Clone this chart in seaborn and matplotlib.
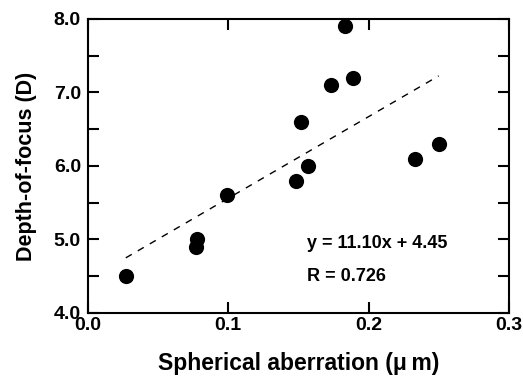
"""Depth-of-focus vs spherical aberration scatter with linear fit."""

import matplotlib.pyplot as plt
import numpy as np
import pandas as pd
import seaborn as sns
from matplotlib.ticker import MultipleLocator

# Data.
spherical_aberration = [0.027, 0.077, 0.078, 0.099, 0.148, 0.152, 0.157,
                        0.173, 0.183, 0.189, 0.233, 0.250]
depth_of_focus = [4.5, 4.9, 5.0, 5.6, 5.8, 6.6, 6.0, 7.1, 7.9, 7.2, 6.1, 6.3]
fit_slope = 11.10
fit_intercept = 4.45
fit_r = 0.726

df = pd.DataFrame({"sa": spherical_aberration, "dof": depth_of_focus})

sns.set_theme(style="ticks", rc={
    "text.color": "black",
    "axes.labelcolor": "black",
    "xtick.color": "black",
    "ytick.color": "black",
    "axes.edgecolor": "black",
})
plt.rcParams["font.family"] = ["Liberation Sans", "DejaVu Sans"]
plt.rcParams["font.weight"] = "bold"

fig = plt.figure(figsize=(5.23, 3.78), dpi=100)
ax = fig.add_axes([0.168, 0.172, 0.805, 0.778])

# Regression line over the data range.
x_fit = np.array([min(spherical_aberration), max(spherical_aberration)])
y_fit = fit_slope * x_fit + fit_intercept
ax.plot(x_fit, y_fit, color="black", linewidth=1.0, linestyle=(0, (5, 5)))

sns.scatterplot(data=df, x="sa", y="dof", color="black", s=120,
                edgecolor="black", linewidth=0, ax=ax, zorder=3)

ax.set_xlim(0, 0.3)
ax.set_ylim(4.0, 8.0)
ax.xaxis.set_major_locator(MultipleLocator(0.1))
ax.yaxis.set_major_locator(MultipleLocator(1.0))
ax.yaxis.set_minor_locator(MultipleLocator(0.5))
ax.xaxis.set_major_formatter(plt.FormatStrFormatter("%.1f"))
ax.yaxis.set_major_formatter(plt.FormatStrFormatter("%.1f"))

ax.tick_params(axis="both", which="both", direction="in", length=8,
               width=1.5, top=True, right=True, labelsize=14,
               colors="black")
ax.tick_params(axis="x", pad=3)
ax.tick_params(axis="y", pad=5)

for spine in ax.spines.values():
    spine.set_linewidth(1.5)
    spine.set_color("black")

for label in ax.get_xticklabels() + ax.get_yticklabels():
    label.set_fontweight("bold")

ax.set_xlabel("Spherical aberration (\u03bc\u2009m)", fontsize=16.5,
              fontweight="bold", labelpad=13)
ax.set_ylabel("Depth-of-focus (D)", fontsize=15.5, fontweight="bold",
              labelpad=12)

ax.text(0.156, 4.95, f"y = {fit_slope:.2f}x + {fit_intercept:.2f}",
        fontsize=13, fontweight="bold", va="center", ha="left")
ax.text(0.156, 4.5, f"R = {fit_r:.3f}", fontsize=13, fontweight="bold",
        va="center", ha="left")

fig.savefig("out.png", dpi=100, facecolor="white")
plt.close(fig)
